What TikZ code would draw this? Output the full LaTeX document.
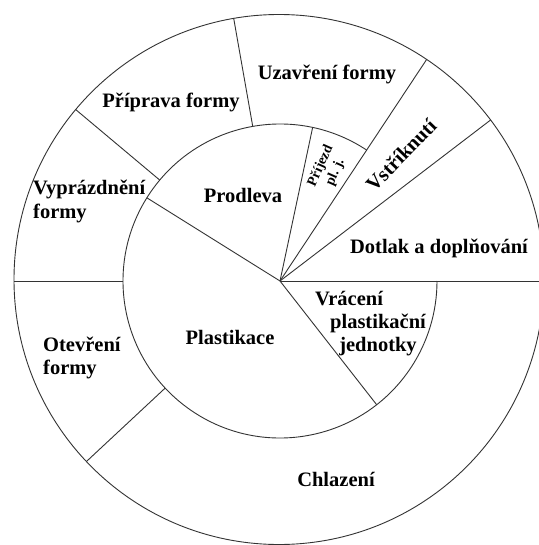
\documentclass[tikz,border=0pt]{standalone}
\usepackage{fontspec}
\setmainfont{Liberation Serif}
\begin{document}
\begin{tikzpicture}[x=1pt,y=1pt,
  ln/.style={line width=0.9pt, draw=black!80},
  lbl/.style={font=\bfseries\fontsize{20.5}{23}\selectfont, inner sep=0pt, anchor=base},
  small/.style={font=\bfseries\fontsize{14}{16}\selectfont, inner sep=0pt, align=center}]
\useasboundingbox (0,0) rectangle (538,-545);
\fill[white] (0,0) rectangle (538,-545);
\coordinate (H) at (280,-281);
\coordinate (O) at (279,-279.5);
% outer circle
\draw[ln] (O) circle[radius=265pt];
% inner arc (open between 0 and 56.5 degrees)
\draw[ln] ([shift={(56.5:157pt)}]H) arc[start angle=56.5,end angle=360,radius=157pt];
% spokes reaching the outer circle
\begin{scope}
  \clip (O) circle[radius=265pt];
  \foreach \a in {56.5,37.4,0} \draw[ln] (H) -- ([shift={(\a:300pt)}]H);
  \foreach \a in {140,100,180,223} \draw[ln] ([shift={(\a:157pt)}]H) -- ([shift={(\a:300pt)}]H);
\end{scope}
% inner spokes
\foreach \a in {148,78,-52} \draw[ln] (H) -- ([shift={(\a:157pt)}]H);
% labels
\node[lbl] (uz) at (327,-80) {Uzavření formy};
\node[lbl] (pp) at (171,-108) {Příprava formy};
\node[lbl, anchor=base west] (vy1) at (33,-195) {Vyprázdnění};
\node[lbl, anchor=base west] (vy2) at (33,-218) {formy};
\node[lbl] (pr) at (243,-203) {Prodleva};
\node[small, rotate=66] (pj) at (328,-169) {Příjezd\\pl. j.};
\node[lbl, anchor=center, rotate=46] (vs) at (401,-155) {Vstříknutí};
\node[lbl] (dt) at (439,-253) {Dotlak a doplňování};
\node[lbl] (vr1) at (349,-305) {Vrácení};
\node[lbl] (vr2) at (378,-328) {plastikační};
\node[lbl] (vr3) at (378,-351) {jednotky};
\node[lbl] (pl) at (230,-344) {Plastikace};
\node[lbl, anchor=base west] (ot1) at (43,-351) {Otevření};
\node[lbl, anchor=base west] (ot2) at (43,-374) {formy};
\node[lbl] (ch) at (336,-486) {Chlazení};
\end{tikzpicture}
\end{document}
